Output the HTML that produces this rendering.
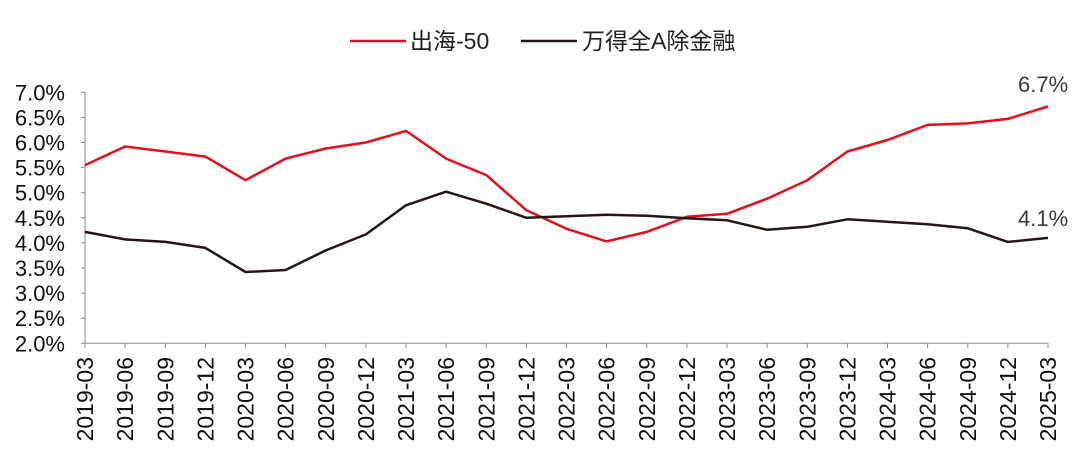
<!DOCTYPE html>
<html><head><meta charset="utf-8"><style>
html,body{margin:0;padding:0;background:#fff;}
svg{display:block;font-family:"Liberation Sans","Noto Sans CJK SC",sans-serif;}
</style></head><body>
<svg width="1080" height="449" viewBox="0 0 1080 449" xmlns="http://www.w3.org/2000/svg">
<line x1="350" y1="41" x2="406" y2="41" stroke="#e0101e" stroke-width="2.5"/>
<text x="410" y="49" font-size="23" fill="#222">出海-50</text>
<line x1="521" y1="41" x2="577" y2="41" stroke="#231815" stroke-width="2.5"/>
<text x="582" y="49" font-size="23" fill="#222">万得全A除金融</text>
<g stroke="#888" stroke-width="1">
<line x1="85" y1="92" x2="85" y2="344"/>
<line x1="85" y1="343.3" x2="1048" y2="343.3"/>
<line x1="81" y1="92.3" x2="85" y2="92.3"/><line x1="81" y1="117.4" x2="85" y2="117.4"/>
<line x1="81" y1="142.5" x2="85" y2="142.5"/><line x1="81" y1="167.6" x2="85" y2="167.6"/>
<line x1="81" y1="192.7" x2="85" y2="192.7"/><line x1="81" y1="217.8" x2="85" y2="217.8"/>
<line x1="81" y1="242.9" x2="85" y2="242.9"/><line x1="81" y1="268" x2="85" y2="268"/>
<line x1="81" y1="293.1" x2="85" y2="293.1"/><line x1="81" y1="318.2" x2="85" y2="318.2"/>
<line x1="81" y1="343.3" x2="85" y2="343.3"/>
</g>
<g font-size="22" fill="#111" text-anchor="end">
<text x="65" y="100.3">7.0%</text><text x="65" y="125.4">6.5%</text><text x="65" y="150.5">6.0%</text>
<text x="65" y="175.6">5.5%</text><text x="65" y="200.7">5.0%</text><text x="65" y="225.8">4.5%</text>
<text x="65" y="250.9">4.0%</text><text x="65" y="276">3.5%</text><text x="65" y="301.1">3.0%</text>
<text x="65" y="326.2">2.5%</text><text x="65" y="351.3">2.0%</text>
</g>
<polyline fill="none" stroke="#e0101e" stroke-width="2.5" stroke-linejoin="round" points="85,165.1 125.1,146.5 165.3,151.5 205.4,156.6 245.5,180.2 285.6,158.6 325.8,148.5 365.9,142.5 406,130.9 446.1,158.6 486.3,175.1 526.4,210.3 566.5,228.8 606.6,241.4 646.8,231.9 686.9,216.8 727,213.8 767.1,198.7 807.3,180.2 847.4,151.5 887.5,140 927.6,124.9 967.8,123.4 1007.9,118.9 1048,106.4"/>
<polyline fill="none" stroke="#231815" stroke-width="2.5" stroke-linejoin="round" points="85,231.9 125.1,239.4 165.3,241.9 205.4,247.9 245.5,272 285.6,270 325.8,250.4 365.9,234.4 406,205.3 446.1,191.7 486.3,203.7 526.4,217.8 566.5,216.3 606.6,214.8 646.8,215.8 686.9,218.3 727,220.3 767.1,229.8 807.3,226.8 847.4,219.3 887.5,221.8 927.6,224.3 967.8,228.3 1007.9,241.9 1048,237.9"/>
<text x="1018" y="92" font-size="22" fill="#3a3a45">6.7%</text>
<text x="1018" y="226" font-size="22" fill="#3a3a45">4.1%</text>
<g font-size="23" fill="#111" text-anchor="end">
<text transform="translate(93,357) rotate(-90)">2019-03</text>
<text transform="translate(133.1,357) rotate(-90)">2019-06</text>
<text transform="translate(173.3,357) rotate(-90)">2019-09</text>
<text transform="translate(213.4,357) rotate(-90)">2019-12</text>
<text transform="translate(253.5,357) rotate(-90)">2020-03</text>
<text transform="translate(293.6,357) rotate(-90)">2020-06</text>
<text transform="translate(333.8,357) rotate(-90)">2020-09</text>
<text transform="translate(373.9,357) rotate(-90)">2020-12</text>
<text transform="translate(414,357) rotate(-90)">2021-03</text>
<text transform="translate(454.1,357) rotate(-90)">2021-06</text>
<text transform="translate(494.3,357) rotate(-90)">2021-09</text>
<text transform="translate(534.4,357) rotate(-90)">2021-12</text>
<text transform="translate(574.5,357) rotate(-90)">2022-03</text>
<text transform="translate(614.6,357) rotate(-90)">2022-06</text>
<text transform="translate(654.8,357) rotate(-90)">2022-09</text>
<text transform="translate(694.9,357) rotate(-90)">2022-12</text>
<text transform="translate(735,357) rotate(-90)">2023-03</text>
<text transform="translate(775.1,357) rotate(-90)">2023-06</text>
<text transform="translate(815.3,357) rotate(-90)">2023-09</text>
<text transform="translate(855.4,357) rotate(-90)">2023-12</text>
<text transform="translate(895.5,357) rotate(-90)">2024-03</text>
<text transform="translate(935.6,357) rotate(-90)">2024-06</text>
<text transform="translate(975.8,357) rotate(-90)">2024-09</text>
<text transform="translate(1015.9,357) rotate(-90)">2024-12</text>
<text transform="translate(1056,357) rotate(-90)">2025-03</text>
</g>
<g stroke="#888" stroke-width="1">
<line x1="85" y1="343" x2="85" y2="348"/><line x1="125.1" y1="343" x2="125.1" y2="348"/><line x1="165.3" y1="343" x2="165.3" y2="348"/><line x1="205.4" y1="343" x2="205.4" y2="348"/><line x1="245.5" y1="343" x2="245.5" y2="348"/><line x1="285.6" y1="343" x2="285.6" y2="348"/><line x1="325.8" y1="343" x2="325.8" y2="348"/><line x1="365.9" y1="343" x2="365.9" y2="348"/><line x1="406" y1="343" x2="406" y2="348"/><line x1="446.1" y1="343" x2="446.1" y2="348"/><line x1="486.3" y1="343" x2="486.3" y2="348"/><line x1="526.4" y1="343" x2="526.4" y2="348"/><line x1="566.5" y1="343" x2="566.5" y2="348"/><line x1="606.6" y1="343" x2="606.6" y2="348"/><line x1="646.8" y1="343" x2="646.8" y2="348"/><line x1="686.9" y1="343" x2="686.9" y2="348"/><line x1="727" y1="343" x2="727" y2="348"/><line x1="767.1" y1="343" x2="767.1" y2="348"/><line x1="807.3" y1="343" x2="807.3" y2="348"/><line x1="847.4" y1="343" x2="847.4" y2="348"/><line x1="887.5" y1="343" x2="887.5" y2="348"/><line x1="927.6" y1="343" x2="927.6" y2="348"/><line x1="967.8" y1="343" x2="967.8" y2="348"/><line x1="1007.9" y1="343" x2="1007.9" y2="348"/><line x1="1048" y1="343" x2="1048" y2="348"/>
</g>
</svg>
</body></html>
